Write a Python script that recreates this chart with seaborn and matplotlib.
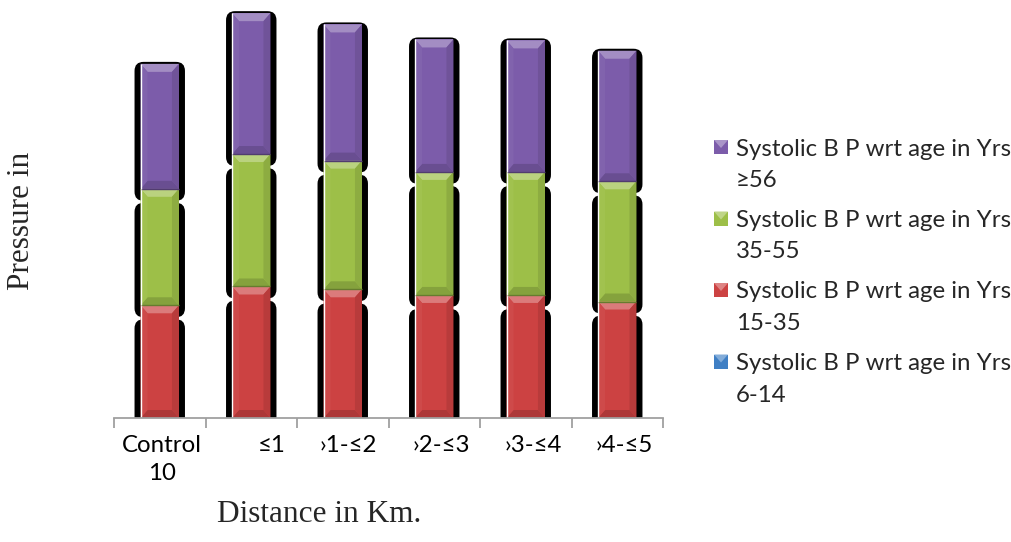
import numpy as np
import matplotlib
matplotlib.use("Agg")
import matplotlib.pyplot as plt
import seaborn as sns
from matplotlib.patches import FancyBboxPatch, Polygon, Rectangle
from matplotlib.colors import to_rgb
from matplotlib.transforms import ScaledTranslation

# ---- data -------------------------------------------------------------
distance = ["Control\n10", "≤1", "›1-≤2", "›2-≤3", "›3-≤4", "›4-≤5"]
bp_age_6_14 = [0, 0, 0, 0, 0, 0]
bp_age_15_35 = [120, 140, 137, 131, 131, 124]
bp_age_35_55 = [124, 141, 137, 131, 131, 128]
bp_age_56 = [133, 150, 145, 141, 140, 139]
series_names = [
    "Systolic B P wrt age in Yrs\n6-14",
    "Systolic B P wrt age in Yrs\n15-35",
    "Systolic B P wrt age in Yrs\n35-55",
    "Systolic B P wrt age in Yrs\n≥56",
]

# ---- style --------------------------------------------------------------
sns.set_theme(style="white")
plt.rcParams["font.family"] = ["Lato", "DejaVu Sans"]
BODY = 17.3
SERIF = ["Liberation Serif", "DejaVu Serif"]

colors = ["#3F7FC4", "#CC4242", "#9DBF48", "#7C5CAA"]

W, H = 1011, 542
fig = plt.figure(figsize=(W / 100, H / 100), dpi=100)
ax = fig.add_axes([114 / W, 1 - 418 / H, (663 - 114) / W, 418 / H])

layers = [bp_age_6_14, bp_age_15_35, bp_age_35_55, bp_age_56]
bottom = np.zeros(len(distance))
segments = []  # list of (patch list, colour)
for vals, col in zip(layers, colors):
    n0 = len(ax.patches)
    sns.barplot(x=distance, y=vals, bottom=bottom, color=col, saturation=1,
                width=0.42, errorbar=None, edgecolor="none", linewidth=0,
                zorder=3, ax=ax)
    segments.append((ax.patches[n0:], col))
    bottom = bottom + np.asarray(vals, dtype=float)

ax.set_xlim(-0.5, len(distance) - 0.5)
ax.set_ylim(0, 445)

# pixel <-> data scale
p0 = ax.transData.transform((0, 0))
p1 = ax.transData.transform((1, 1))
px_x = p1[0] - p0[0]
px_y = p1[1] - p0[1]


def mix(c, other, t):
    c = np.array(to_rgb(c))
    o = np.array(to_rgb(other))
    return tuple(c * (1 - t) + o * t)


# top segment index for each bar
top_layer = {}
for li, (patches, _) in enumerate(segments):
    for bi, p in enumerate(patches):
        if p.get_height() > 0:
            top_layer[bi] = li

for li, (patches, col) in enumerate(segments):
    for bi, p in enumerate(patches):
        h = p.get_height()
        if h <= 0:
            continue
        x0, w, y0 = p.get_x(), p.get_width(), p.get_y()
        x1, y1 = x0 + w, y0 + h

        # dark drop shadow with rounded corners
        sx = 6 / px_x
        hi = y1 + (2 if top_layer[bi] == li else -14) / px_y
        lo = y0 - 12 / px_y
        shadow = FancyBboxPatch(
            (x0 - sx, lo), w + 2 * sx, hi - lo,
            boxstyle=f"round,pad=0,rounding_size={9 / px_x}",
            mutation_aspect=px_x / px_y, fc="black", ec="none", zorder=2)
        ax.add_patch(shadow)

        # bevel facets
        dx = 7 / px_x
        dy = 8 / px_y
        facets = [
            ([(x0, y1), (x1, y1), (x1 - dx, y1 - dy), (x0 + dx, y1 - dy)], mix(col, "white", 0.30)),
            ([(x0, y0), (x1, y0), (x1 - dx, y0 + dy), (x0 + dx, y0 + dy)], mix(col, "black", 0.15)),
            ([(x0, y0), (x0 + dx, y0 + dy), (x0 + dx, y1 - dy), (x0, y1)], mix(col, "white", 0.04)),
            ([(x1, y0), (x1 - dx, y0 + dy), (x1 - dx, y1 - dy), (x1, y1)], mix(col, "black", 0.10)),
        ]
        for pts, fc in facets:
            ax.add_patch(Polygon(pts, closed=True, fc=fc, ec="none", zorder=4))
        ax.plot([x0, x1], [y0, y0], color=mix(col, "black", 0.35), lw=1.0,
                zorder=5, solid_capstyle="butt")
        ax.plot([x0, x0], [y0, y1], color="white", lw=1.0, zorder=5,
                solid_capstyle="butt")

# ---- axes -------------------------------------------------------------
for side in ("top", "right", "left"):
    ax.spines[side].set_visible(False)
ax.spines["bottom"].set_color("#A0A0A0")
ax.spines["bottom"].set_linewidth(1.3)
ax.spines["bottom"].set_zorder(6)
ax.set_yticks([])
ax.set_xticks(range(len(distance)))
ax.set_xticklabels(distance, fontsize=BODY, color="black", linespacing=1.45)
ax.set_xticks(np.arange(-0.5, len(distance), 1.0), minor=True)
ax.tick_params(axis="x", which="both", bottom=True)
ax.tick_params(axis="x", which="major", length=0, pad=12)
ax.tick_params(axis="x", which="minor", length=7, width=1.3, color="#A0A0A0")
ax.set_xlabel("")
ax.set_ylabel("")

label_shift_px = [2, 20, 6, 7, 7, 7]
for lab, s in zip(ax.get_xticklabels(), label_shift_px):
    lab.set_transform(lab.get_transform() + ScaledTranslation(s / 100, 0, fig.dpi_scale_trans))

fig.text(22 / W, 1 - 221 / H, "Pressure in", rotation=90, family=SERIF,
         fontsize=22.5, ha="center", va="center")
fig.text(319 / W, 1 - 514 / H, "Distance in Km.", family=SERIF,
         fontsize=22.5, ha="center", va="center")

# ---- legend (top entry = last series) ------------------------------------
for k, (name, col) in enumerate(zip(series_names[::-1], colors[::-1])):
    yc = 147 + 71.5 * k
    m = 14
    xm = 714
    fig.patches.append(Rectangle((xm / W, 1 - (yc + m / 2) / H), m / W, m / H,
                                 transform=fig.transFigure, fc=col, ec="none"))
    fig.patches.append(Polygon(
        [(xm / W, 1 - (yc - m / 2) / H), ((xm + m) / W, 1 - (yc - m / 2) / H),
         ((xm + m / 2) / W, 1 - (yc + 1) / H)],
        closed=True, transform=fig.transFigure, fc=mix(col, "white", 0.35), ec="none"))
    first, second = name.split("\n")
    fig.text(736 / W, 1 - yc / H, first, fontsize=BODY, ha="left", va="center_baseline")
    fig.text(736 / W, 1 - (yc + 31.5) / H, second, fontsize=BODY, ha="left", va="center_baseline")

fig.savefig("out.png", dpi=100, facecolor="white")
